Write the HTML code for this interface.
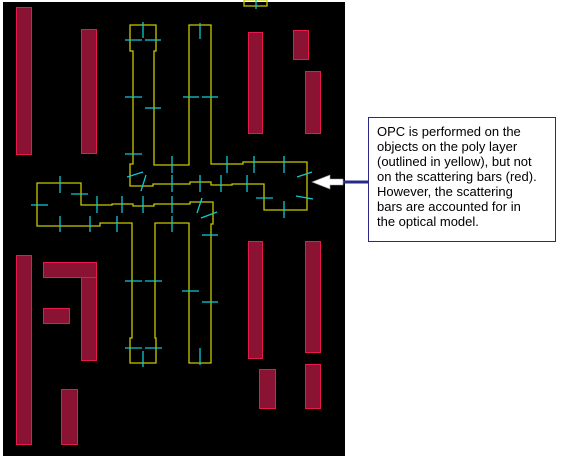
<!DOCTYPE html>
<html><head><meta charset="utf-8">
<style>
html,body{margin:0;padding:0;background:#fff;width:565px;height:456px;overflow:hidden}
svg{position:absolute;left:0;top:0}
.note{position:absolute;left:368px;top:117px;width:188px;height:125px;border:1px solid #2a2a86;background:#fff;box-sizing:border-box;
font-family:"Liberation Sans",sans-serif;font-size:13px;line-height:15px;color:#000;padding:6px 0 0 8px;white-space:nowrap}
</style></head>
<body>
<svg width="565" height="456">
<rect x="3" y="2" width="342" height="454" fill="#000"/>
<g id="bars" fill="#8a1232" stroke="#e8184a" stroke-width="1"></g>
<g id="poly" fill="none" stroke="#c8c800" stroke-width="1.3"></g>
<g id="ticks" stroke="#10c8d0" stroke-width="1.3"></g>
<line x1="343" y1="182" x2="368" y2="182" stroke="#2a2a86" stroke-width="3"/>
<polygon points="312,182 330,175 330,179 343,179 343,185 330,185 330,189" fill="#fff" stroke="#999" stroke-width="0.6"/>
</svg>
<div class="note">OPC is performed on the<br>objects on the poly layer<br>(outlined in yellow), but not<br>on the scattering bars (red).<br>However, the scattering<br>bars are accounted for in<br>the optical model.</div>
<script>
const barX=[16,81,248,293,305,248,305,16,43,81,43,61,259,305];
const barY=[7,29,32,30,71,241,241,255,262,277,308,389,369,364];
const barW=[15,15,14,15,15,14,15,15,53,15,26,16,16,15];
const barH=[147,124,101,29,62,117,111,189,15,83,15,55,39,44];
const polys=[
"130,25 156,25 156,51 154,51 154,165 189,165 189,25 211,25 211,164 243,164 243,162 307,162 307,210 264,210 264,184 232,184 232,185 211,185 211,182 190,182 190,184 153,184 153,186 130,186 130,164 133,164 133,51 130,51",
"37,183 81,183 81,205 112,205 112,204 133,204 133,206 154,206 154,204 190,204 190,202 213,202 213,224 211,224 211,363 189,363 189,223 155,223 155,338 156,338 156,363 130,363 130,338 132,338 132,223 100,223 100,226 37,226",
"244,0 244,6 267,6 267,0"];
const ticks=[[143,22,143,38],[125,40,142,40],[145,40,161,40],[200,23,200,39],[125,97,142,97],[145,108,161,108],[183,97,199,97],[202,97,218,97],[125,154,142,154],
[172,156,172,173],[227,156,227,173],[254,156,254,173],[284,156,284,173],[127,177,143,172],[141,191,146,175],[172,175,172,192],[200,175,200,192],[221,175,221,192],[247,175,247,192],
[297,177,312,172],[296,196,313,199],[256,198,273,198],[284,201,284,218],[60,176,60,193],[71,194,88,194],[31,205,48,205],[97,196,97,213],[122,196,122,213],[143,196,143,213],[172,196,172,213],
[197,213,202,198],[201,218,217,212],[60,216,60,232],[90,216,90,232],[117,216,117,232],[172,216,172,232],[202,235,218,235],[125,281,142,281],[145,281,162,281],[182,291,199,291],[202,302,218,302],
[125,348,142,348],[145,348,162,348],[143,351,143,367],[200,348,200,365],[256,0,256,9]];
const NS='http://www.w3.org/2000/svg';
const gb=document.getElementById('bars');
for(let i=0;i<barX.length;i++){const r=document.createElementNS(NS,'rect');
r.setAttribute('x',barX[i]+0.5);r.setAttribute('y',barY[i]+0.5);r.setAttribute('width',barW[i]);r.setAttribute('height',barH[i]);


gb.appendChild(r);}
const gp=document.getElementById('poly');
polys.forEach(p=>{const e=document.createElementNS(NS,'polygon');e.setAttribute('points',p);


gp.appendChild(e);});
const gt=document.getElementById('ticks');
ticks.forEach(t=>{const l=document.createElementNS(NS,'line');l.setAttribute('x1',t[0]);l.setAttribute('y1',t[1]);l.setAttribute('x2',t[2]);l.setAttribute('y2',t[3]);


gt.appendChild(l);});
</script>
</body></html>
